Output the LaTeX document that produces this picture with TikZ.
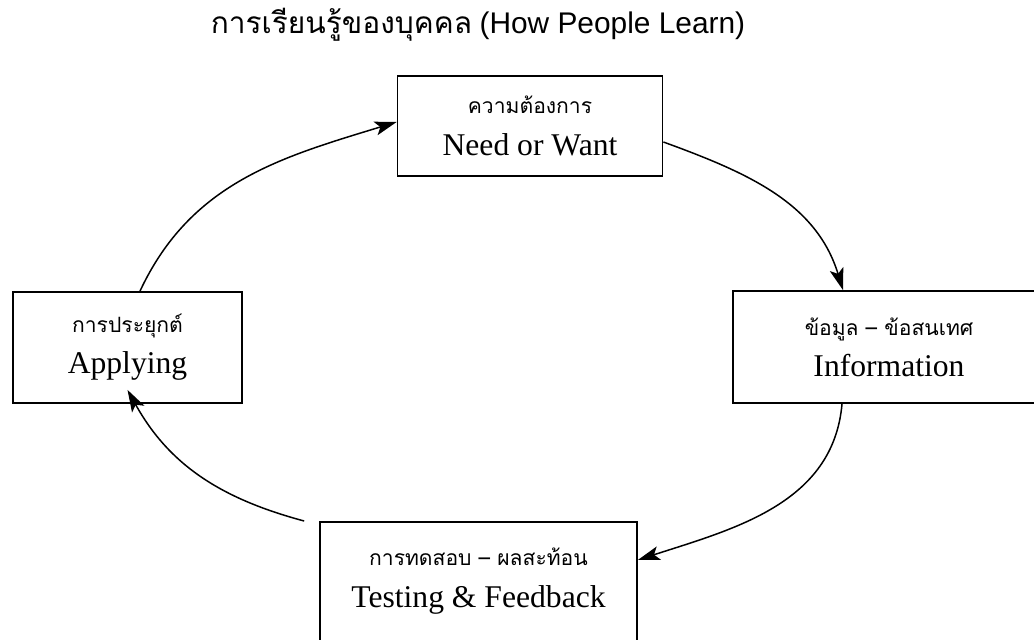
\documentclass[tikz,border=0pt]{standalone}
\usepackage{fontspec}
\setmainfont{Liberation Serif}
\newfontfamily\thaifont[Script=Thai]{Loma}
\newfontfamily\titlefont{Liberation Sans}
\usetikzlibrary{arrows.meta}
\newcommand{\thtext}[1]{{\thaifont\fontsize{12}{23.5}\selectfont #1}}
\begin{document}
\begin{tikzpicture}[x=0.02cm,y=0.02cm]
\clip (0,0) rectangle (1034,639);
\tikzstyle{box}=[draw,line width=1pt,align=center,font=\fontsize{18}{23.5}\selectfont]
\tikzstyle{cyc}=[line width=0.85pt,-{Stealth[length=0.44cm,width=0.28cm,inset=0.1cm]}]
\node (title) at (478,614) {\fontsize{17}{20}\selectfont{\thaifont การเรียนรู้ของบุคคล} {\titlefont (How People Learn)}};
\node [box,minimum width=5.3cm,minimum height=2cm] (need) at (530,513) {\thtext{ความต้องการ}\\Need or Want};
\node [box,minimum width=6.24cm,minimum height=2.24cm] (info) at (889,292) {\thtext{ข้อมูล – ข้อสนเทศ}\\Information};
\node [box,minimum width=4.58cm,minimum height=2.22cm] (apply) at (127.5,291.5) {\thtext{การประยุกต์}\\Applying};
\node [box,minimum width=6.34cm,anchor=north,inner ysep=15pt,text depth=3cm] (test) at (478.5,118) {\thtext{การทดสอบ – ผลสะท้อน}\\Testing \& Feedback};
\draw [cyc] ([yshift=-0.32cm]need.east) to[out=-20,in=107] ([xshift=-0.92cm]info.north);
\draw [cyc] ([xshift=-0.94cm]info.south) to[out=-95,in=18] ([yshift=-0.78cm]test.north east);
\draw [cyc] ([xshift=-0.3cm]test.north west) to[out=165,in=-61] ([yshift=0.28cm]apply.south);
\draw [cyc] ([xshift=0.25cm]apply.north) to[out=65,in=197] ([yshift=0.08cm]need.west);
\end{tikzpicture}
\end{document}
